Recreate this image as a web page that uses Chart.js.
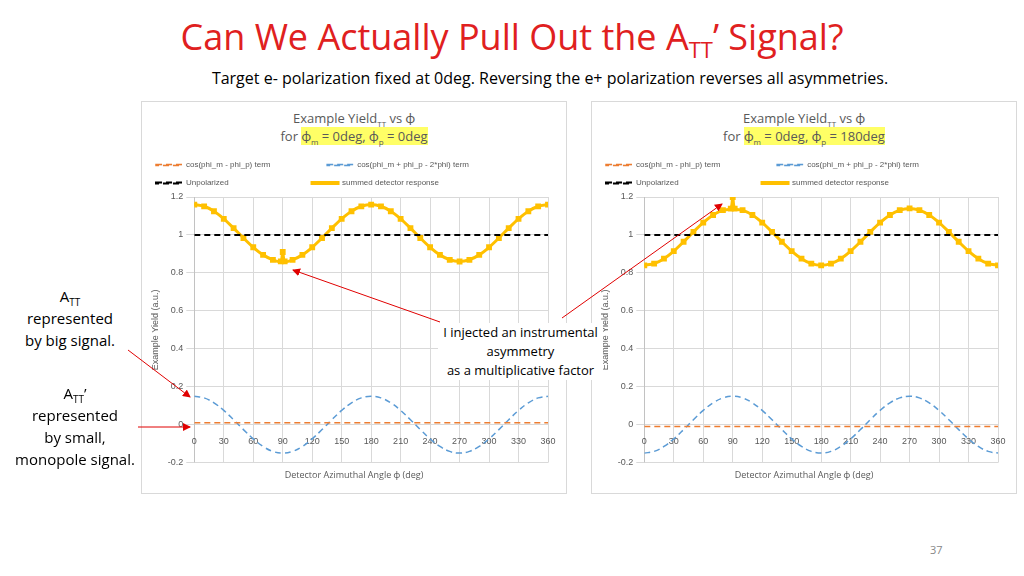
<!DOCTYPE html>
<html><head><meta charset="utf-8">
<script src="https://cdn.jsdelivr.net/npm/chart.js@4/dist/chart.umd.min.js"></script>
<style>
body{margin:0;width:1024px;height:576px;background:#fff;font-family:"Open Sans",Lato,sans-serif;position:relative;overflow:hidden}
.abs{position:absolute}
.box{position:absolute;border:1px solid #d9d9d9;background:#fff}
.ctitle{position:absolute;left:0;right:0;text-align:center;color:#595959;font-size:13px;line-height:18px;top:7px}
.hl{background:#ffff66}
sub{font-size:8px;line-height:0}
.note{position:absolute;text-align:center;font-size:15px;line-height:22px;color:#000}
.xt{position:absolute;left:0;right:0;text-align:center;color:#595959;font-size:9px;top:366px}
</style></head><body>
<div class="abs" style="left:0;width:1024px;top:12px;text-align:center;color:#e02020;font-size:36px">Can We Actually Pull Out the A<sub style="font-size:22px">TT</sub>’ Signal?</div>
<div class="abs" style="left:0;width:1100px;top:67px;text-align:center;font-size:16px;color:#000">Target e- polarization fixed at 0deg. Reversing the e+ polarization reverses all asymmetries.</div>

<div class="box" style="left:141px;top:101px;width:424px;height:391px">
 <div class="ctitle">Example Yield<sub>TT</sub> vs ϕ<br>for <span class="hl">ϕ<sub>m</sub> = 0deg, ϕ<sub>p</sub> = 0deg</span></div>
 <div class="abs" style="left:0;top:49px;width:424px;height:320px"><canvas id="c1"></canvas></div>
 <div class="xt">Detector Azimuthal Angle ϕ (deg)</div>
</div>
<div class="box" style="left:591px;top:101px;width:424px;height:391px">
 <div class="ctitle">Example Yield<sub>TT</sub> vs ϕ<br>for <span class="hl">ϕ<sub>m</sub> = 0deg, ϕ<sub>p</sub> = 180deg</span></div>
 <div class="abs" style="left:0;top:49px;width:424px;height:320px"><canvas id="c2"></canvas></div>
 <div class="xt">Detector Azimuthal Angle ϕ (deg)</div>
</div>

<div class="note" style="left:10px;top:285px;width:120px">A<sub style="font-size:10px">TT</sub><br>represented<br>by big signal.</div>
<div class="note" style="left:5px;top:382px;width:140px">A<sub style="font-size:10px">TT</sub>’<br>represented<br>by small,<br>monopole signal.</div>
<div class="note" style="left:438px;top:323px;width:165px;font-size:13px;line-height:19px;background:#fff">I injected an instrumental<br>asymmetry<br>as a multiplicative factor</div>
<div class="abs" style="left:930px;top:542px;font-size:11px;color:#888">37</div>

<svg class="abs" style="left:0;top:0" width="1024" height="576">
 <defs><marker id="ar" markerWidth="8" markerHeight="8" refX="7" refY="4" orient="auto"><path d="M0,0 L8,4 L0,8 z" fill="#e00000"/></marker></defs>
 <g stroke="#e00000" stroke-width="1" fill="none" marker-end="url(#ar)">
  <line x1="128" y1="350" x2="190" y2="397"/>
  <line x1="138" y1="427" x2="190" y2="427"/>
  <line x1="440" y1="322" x2="293" y2="270"/>
  <line x1="562" y1="318" x2="722" y2="204"/>
 </g>
</svg>

<script>
const angles = [0,10,20,30,40,50,60,70,80,90,100,110,120,130,140,150,160,170,180,190,200,210,220,230,240,250,260,270,280,290,300,310,320,330,340,350,360];
// left: phi_m = 0, phi_p = 0
const blueLeft = [0.15,0.141,0.115,0.075,0.026,-0.026,-0.075,-0.115,-0.141,-0.15,-0.141,-0.115,-0.075,-0.026,0.026,0.075,0.115,0.141,0.15,0.141,0.115,0.075,0.026,-0.026,-0.075,-0.115,-0.141,-0.15,-0.141,-0.115,-0.075,-0.026,0.026,0.075,0.115,0.141,0.15];
const orangeLeft = 0.01;
const sumAngles = [0,10,20,30,40,50,60,70,80,88,90,92,100,110,120,130,140,150,160,170,180,190,200,210,220,230,240,250,260,270,280,290,300,310,320,330,340,350,360];
const sumLeft = [1.16,1.151,1.125,1.085,1.036,0.984,0.935,0.895,0.869,0.861,0.91,0.861,0.869,0.895,0.935,0.984,1.036,1.085,1.125,1.151,1.16,1.151,1.125,1.085,1.036,0.984,0.935,0.895,0.869,0.86,0.869,0.895,0.935,0.984,1.036,1.085,1.125,1.151,1.16];
// right: phi_m = 0, phi_p = 180
const blueRight = blueLeft.map(v => -v);
const orangeRight = -0.01;
const sumRight = [0.84,0.849,0.875,0.915,0.964,1.016,1.065,1.105,1.131,1.139,1.2,1.139,1.131,1.105,1.065,1.016,0.964,0.915,0.875,0.849,0.84,0.849,0.875,0.915,0.964,1.016,1.065,1.105,1.131,1.14,1.131,1.105,1.065,1.016,0.964,0.915,0.875,0.849,0.84];
const xTicks = [0,30,60,90,120,150,180,210,240,270,300,330,360];

function pts(xs, ys) { return xs.map((x, i) => ({x: x, y: ys[i]})); }
function flat(v) { return [{x:0,y:v},{x:360,y:v}]; }

function makeChart(id, orange, blue, sum) {
  new Chart(document.getElementById(id), {
    type: "line",
    data: { datasets: [
      {label:"cos(phi_m - phi_p) term", data: flat(orange), borderColor:"#ed7d31", borderDash:[6,4], borderWidth:1.5, pointRadius:0},
      {label:"cos(phi_m + phi_p - 2*phi) term", data: pts(angles, blue), borderColor:"#5b9bd5", borderDash:[6,4], borderWidth:1.5, pointRadius:0, tension:0.4},
      {label:"Unpolarized", data: flat(1), borderColor:"#000", borderDash:[6,4], borderWidth:2, pointRadius:0},
      {label:"summed detector response", data: pts(sumAngles, sum), borderColor:"#ffc000", backgroundColor:"#ffc000", borderWidth:3, pointStyle:"rect", pointRadius:2, tension:0.3}
    ]},
    options: {
      responsive:false, animation:false,
      layout:{padding:{right:18,left:4,bottom:6}},
      plugins:{ legend:{ position:"top", align:"start",
        labels:{ font:{size:8}, color:"#595959", boxWidth:26, boxHeight:1, padding:10,
          generateLabels: ch => Chart.defaults.plugins.legend.labels.generateLabels(ch).map(l => Object.assign(l, {text: l.text.padEnd(44, " ")})) } } },
      scales:{
        x:{ type:"linear", min:0, max:360, position:{y:0}, afterBuildTicks: a => { a.ticks = xTicks.map(v => ({value:v})); },
            ticks:{ font:{size:9}, color:"#595959", maxRotation:0 }, grid:{color:"#d9d9d9"}, border:{color:"#d9d9d9"} },
        y:{ min:-0.2, max:1.2, ticks:{ stepSize:0.2, font:{size:9}, color:"#595959", callback: v => +v.toFixed(1) }, grid:{color:"#d9d9d9"},
            title:{display:true, text:"Example Yield (a.u.)", font:{size:9}, color:"#595959"} }
      }
    }
  });
}
document.getElementById("c1").width = 424; document.getElementById("c1").height = 320;
document.getElementById("c2").width = 424; document.getElementById("c2").height = 320;
makeChart("c1", orangeLeft, blueLeft, sumLeft);
makeChart("c2", orangeRight, blueRight, sumRight);
</script>
</body></html>
